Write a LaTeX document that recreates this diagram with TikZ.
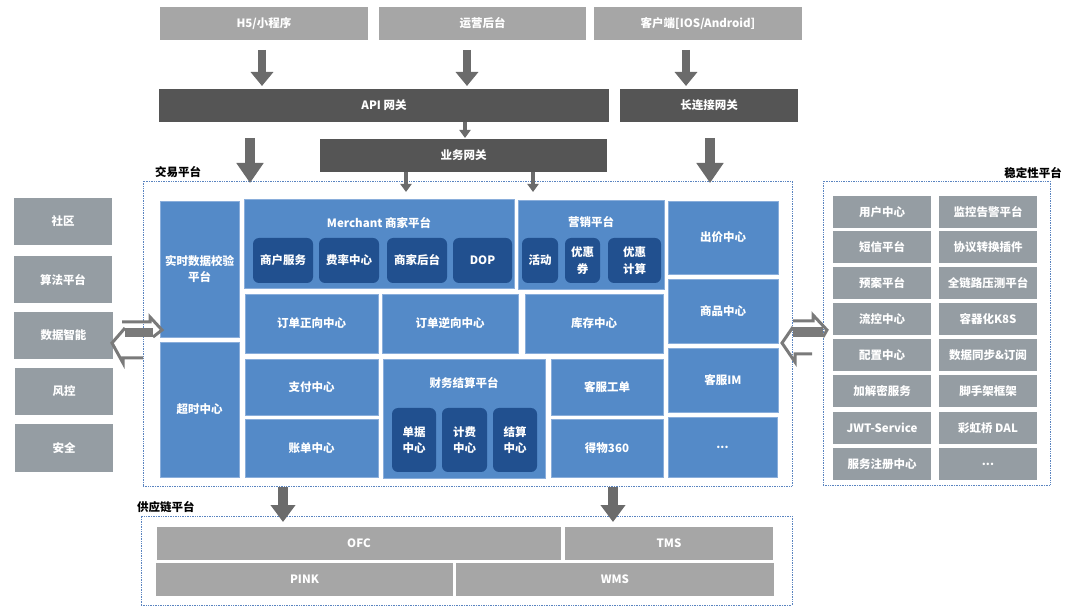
\documentclass[tikz,border=0pt]{standalone}
\usepackage{fontspec}
\setmainfont{Noto Sans CJK SC}
\usetikzlibrary{arrows.meta}
\definecolor{lgray}{HTML}{A6A6A6}
\definecolor{dgray}{HTML}{555555}
\definecolor{mblue}{HTML}{548AC8}
\definecolor{eblue}{HTML}{8AAEDB}
\definecolor{dblue}{HTML}{21508F}
\definecolor{sgray}{HTML}{959DA3}
\definecolor{agray}{HTML}{6B6B6B}
\definecolor{fblue}{HTML}{5A84C0}
\newcommand\bx[7]{\node[#2, minimum width={(#5-#3)*1pt}, minimum height={(#6-#4)*1pt}] (#1) at ({(#3+#5)/2},{(#4+#6)/2}) {#7};}
\begin{document}
\begin{tikzpicture}[x=1pt,y=-1pt,
  font=\fontsize{11.5}{16.5}\selectfont\bfseries,
  box/.style={inner sep=0pt, outer sep=0pt, text=white, align=center},
  lg/.style={box, fill=lgray},
  gw/.style={box, fill=dgray},
  bl/.style={box, fill=mblue, draw=eblue, line width=0.6pt},
  sub/.style={box, fill=dblue, rounded corners=6pt},
  gb/.style={box, fill=sgray},
  frame/.style={draw=fblue, densely dotted, line width=0.7pt, inner sep=0pt, outer sep=0pt},
  ttl/.style={text=black, inner sep=0pt},
  bigarr/.style={draw=agray, line width=8pt, -{Triangle[width=22pt,length=14pt]}},
  midarr/.style={draw=agray, line width=10pt, -{Triangle[width=26pt,length=20pt]}},
  suparr/.style={draw=agray, line width=10pt, -{Triangle[width=24pt,length=17pt]}},
  smallarr/.style={draw=agray, line width=4pt, -{Triangle[width=11pt,length=8pt]}},
  dbl/.style={draw=agray!90, line width=3pt, line join=miter}
]
\useasboundingbox (0,0) rectangle (1080,612);

% top row
\bx{h5}{lg}{160}{7}{368}{40}{H5/小程序}
\bx{yy}{lg}{379}{7}{586}{40}{运营后台}
\bx{kh}{lg}{594}{7}{802}{40}{客户端[IOS/Android]}
% gateways
\bx{api}{gw}{159}{89}{609}{122}{API 网关}
\bx{cl}{gw}{620}{89}{798}{122}{长连接网关}
\bx{yw}{gw}{320}{139}{607}{172}{业务网关}

% frames
\bx{jy}{frame}{143}{181}{792}{486}{}
\bx{wd}{frame}{823}{181}{1050}{485}{}
\bx{sc}{frame}{141}{516}{792}{605}{}
\node[ttl, anchor=west] (jyl) at (155,172) {交易平台};
\node[ttl, anchor=east] (wdl) at (1062,173) {稳定性平台};
\node[ttl, anchor=west] (scl) at (137,507) {供应链平台};

% trading platform
\bx{ss}{bl}{160}{201}{239}{337}{实时数据校验\\平台}
\bx{cs}{bl}{160}{342}{239}{477}{超时中心}
\bx{mp}{bl}{244}{199}{514}{288}{}
\node[box] (mpt) at ([yshift=-24pt]mp.north) {Merchant 商家平台};
\bx{yx}{bl}{518}{200}{664}{289}{}
\node[box] (yxt) at ([yshift=-22pt]yx.north) {营销平台};
\bx{cj}{bl}{668}{201}{778}{274}{出价中心}
\bx{sp}{bl}{668}{279}{778}{343}{商品中心}
\bx{zx}{bl}{245}{294}{378}{353}{订单正向中心}
\bx{nx}{bl}{382}{294}{518}{353}{订单逆向中心}
\bx{kc}{bl}{525}{294}{663}{353}{库存中心}
\bx{zf}{bl}{245}{359}{378}{415}{支付中心}
\bx{zd}{bl}{245}{419}{378}{477}{账单中心}
\bx{cw}{bl}{383}{359}{545}{478}{}
\node[box] (cwt) at ([yshift=-24pt]cw.north) {财务结算平台};
\bx{gd}{bl}{551}{359}{663}{415}{客服工单}
\bx{dw}{bl}{551}{419}{663}{477}{得物360}
\bx{im}{bl}{668}{348}{778}{412}{客服IM}
\bx{more}{bl}{668}{417}{777}{477}{...}

\bx{s1}{sub}{253}{238}{313}{283}{商户服务}
\bx{s2}{sub}{319}{238}{379}{283}{费率中心}
\bx{s3}{sub}{387}{238}{447}{283}{商家后台}
\bx{s4}{sub}{453}{238}{512}{283}{DOP}
\bx{s5}{sub}{522}{238}{558}{283}{活动}
\bx{s6}{sub}{565}{238}{600}{283}{优惠\\券}
\bx{s7}{sub}{608}{238}{661}{283}{优惠\\计算}
\bx{s8}{sub}{392}{408}{436}{472}{单据\\中心}
\bx{s9}{sub}{442}{408}{487}{472}{计费\\中心}
\bx{s10}{sub}{493}{408}{537}{472}{结算\\中心}

% left column
\bx{l1}{gb}{14}{198}{112}{245}{社区}
\bx{l2}{gb}{14}{256}{112}{303}{算法平台}
\bx{l3}{gb}{14}{312}{113}{359}{数据智能}
\bx{l4}{gb}{15}{368}{113}{415}{风控}
\bx{l5}{gb}{15}{424}{113}{472}{安全}

% stability platform
\bx{w1}{gb}{833}{196}{931}{228}{用户中心}
\bx{w2}{gb}{833}{231}{931}{263}{短信平台}
\bx{w3}{gb}{833}{267}{931}{299}{预案平台}
\bx{w4}{gb}{833}{303}{931}{335}{流控中心}
\bx{w5}{gb}{833}{339}{931}{371}{配置中心}
\bx{w6}{gb}{833}{375}{931}{407}{加解密服务}
\bx{w7}{gb}{833}{412}{931}{444}{JWT-Service}
\bx{w8}{gb}{833}{448}{931}{480}{服务注册中心}
\bx{v1}{gb}{939}{196}{1037}{228}{监控告警平台}
\bx{v2}{gb}{939}{231}{1037}{263}{协议转换插件}
\bx{v3}{gb}{939}{267}{1037}{299}{全链路压测平台}
\bx{v4}{gb}{939}{303}{1037}{335}{容器化K8S}
\bx{v5}{gb}{939}{339}{1037}{371}{数据同步\&订阅}
\bx{v6}{gb}{939}{375}{1037}{407}{脚手架框架}
\bx{v7}{gb}{939}{412}{1037}{444}{彩虹桥 DAL}
\bx{v8}{gb}{939}{448}{1037}{480}{...}

% supply chain
\bx{ofc}{lg}{157}{527}{561}{560}{OFC}
\bx{tms}{lg}{565}{527}{773}{560}{TMS}
\bx{pink}{lg}{156}{563}{453}{596}{PINK}
\bx{wms}{lg}{456}{563}{774}{596}{WMS}

% arrows
\draw[bigarr, shorten <=10pt, shorten >=3pt] ([xshift=-2pt]h5.south) -- ([xshift=-2pt]h5.south |- api.north);
\draw[bigarr, shorten <=10pt, shorten >=3pt] ([xshift=-15.5pt]yy.south) -- ([xshift=-15.5pt]yy.south |- api.north);
\draw[bigarr, shorten <=10pt, shorten >=3pt] ([xshift=-12pt]kh.south) -- ([xshift=-12pt]kh.south |- cl.north);
\draw[smallarr, shorten >=1pt] ([xshift=81pt]api.south) -- ([xshift=81pt]api.south |- yw.north);
\draw[smallarr, shorten >=7pt] ([xshift=-57.5pt]yw.south) -- ([xshift=-57.5pt]yw.south |- mp.north);
\draw[smallarr, shorten >=8pt] ([xshift=69.5pt]yw.south) -- ([xshift=69.5pt]yw.south |- yx.north);
\draw[midarr, shorten <=16pt, shorten >=-2pt] ([xshift=-134pt]api.south) -- ([xshift=-134pt]api.south |- jy.north);
\draw[midarr, shorten <=16pt, shorten >=-2pt] ([xshift=1pt]cl.south) -- ([xshift=1pt]cl.south |- jy.north);
\draw[suparr, shorten <=1pt, shorten >=-6pt] ([xshift=-184.5pt]jy.south) -- ([xshift=-184.5pt]jy.south |- sc.north);
\draw[suparr, shorten <=1pt, shorten >=-6pt] ([xshift=145.5pt]jy.south) -- ([xshift=145.5pt]jy.south |- sc.north);

% double arrows
\begin{scope}[shift={(112,313)}]
  \fill[agray!90] (13,15) rectangle (41,24);
  \draw[dbl] (10,9) -- (38,9) -- (38,4) -- (50,17) -- (41,24);
  \draw[dbl] (13,15) -- (0,30) -- (11,50) -- (11,45) -- (31,45);
\end{scope}
\begin{scope}[shift={(782,313)}]
  \fill[agray!90] (11,14) rectangle (41,24);
  \draw[dbl] (11,8) -- (31,8) -- (31,2) -- (45,17) -- (41,24);
  \draw[dbl] (11,14) -- (0,30) -- (13,49) -- (13,41) -- (30,41);
\end{scope}
\end{tikzpicture}
\end{document}
